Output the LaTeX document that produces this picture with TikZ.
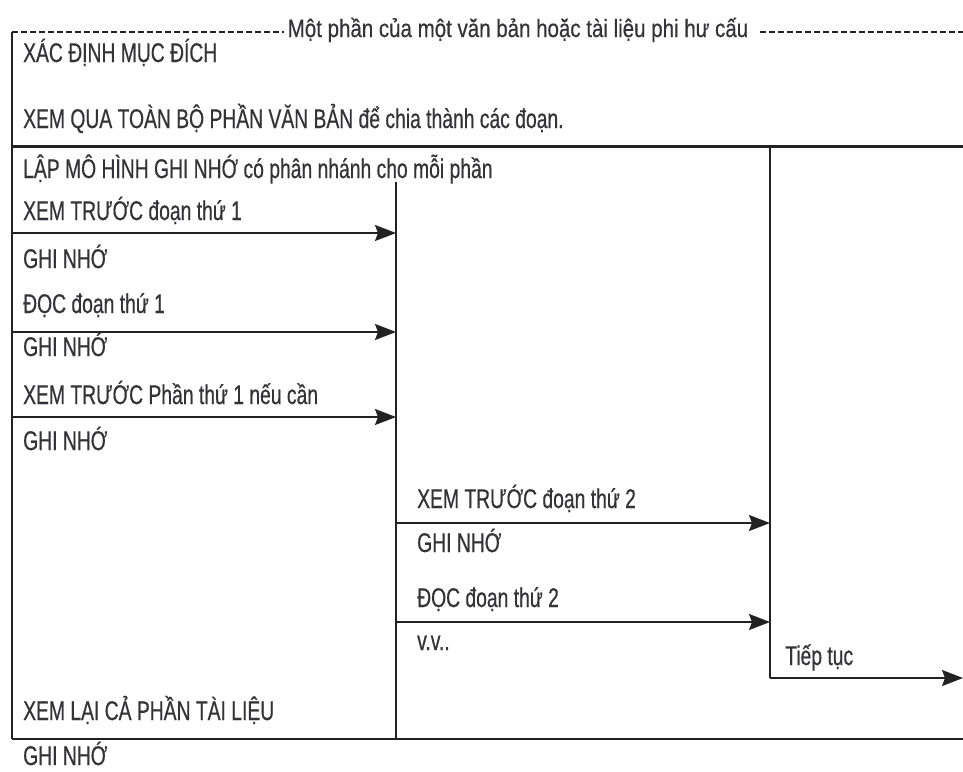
\documentclass[tikz,border=0pt]{standalone}
\usepackage{fontspec}
\setmainfont{Liberation Sans}[FakeStretch=0.715,FakeBold=0.5]
\newfontfamily\ttlfont{Liberation Sans}[FakeStretch=0.82,FakeBold=0.4]
\usetikzlibrary{arrows.meta}
\definecolor{txt}{HTML}{333338}
\definecolor{ln}{HTML}{222222}
\begin{document}
\begin{tikzpicture}[x=1pt,y=-1pt,
  lbl/.style={anchor=base west, inner sep=0pt, text=txt, font=\fontsize{27}{32}\selectfont},
  ttl/.style={anchor=base, inner sep=0pt, text=txt, font=\ttlfont\fontsize{25}{30}\selectfont},
  ln/.style={draw=ln, line width=1.8pt},
  thickln/.style={draw=ln, line width=3pt},
  vln/.style={draw=ln, line width=1.5pt},
  dashln/.style={draw=ln, line width=1.3pt, dash pattern=on 6pt off 3pt},
  arr/.style={draw=ln, line width=1.8pt, -{Stealth[length=21pt,width=16pt,inset=3pt]}}]
\useasboundingbox (0,0) rectangle (963,771);
\fill[white] (0,0) rectangle (963,771);

% title and dashed frame top
\node[ttl] (title) at (518,37) {Một phần của một văn bản hoặc tài liệu phi hư cấu};
\coordinate (dl0) at (12,32);
\coordinate (dl1) at (963,32);
\draw[dashln] (dl0) -- ([xshift=-4pt]title.west |- dl0);
\draw[dashln] ([xshift=12pt]title.east |- dl0) -- (dl1);

% frame lines
\coordinate (bl) at (12,739);
\coordinate (br) at (963,739);
\coordinate (tl) at (12,146);
\coordinate (tr) at (963,146);
\draw[ln] (dl0) -- (bl);
\draw[thickln] (tl) -- (tr);
\draw[ln] (bl) -- (br);

% verticals
\coordinate (m0) at (396,182);
\coordinate (m1) at (396,739);
\draw[vln] (m0) -- (m1);
\coordinate (r0) at (770,146);
\coordinate (r1) at (770,678);
\draw[vln] (r0) -- (r1);

% texts, left column
\node[lbl] (a1) at (23,62) {XÁC ĐỊNH MỤC ĐÍCH};
\node[lbl] (a2) at (23,128) {XEM QUA TOÀN BỘ PHẦN VĂN BẢN để chia thành các đoạn.};
\node[lbl] (a3) at (23,178) {LẬP MÔ HÌNH GHI NHỚ có phân nhánh cho mỗi phần};
\node[lbl] (a4) at (23,220) {XEM TRƯỚC đoạn thứ 1};
\node[lbl] (a5) at (23,268) {GHI NHỚ};
\node[lbl] (a6) at (23,313) {ĐỌC đoạn thứ 1};
\node[lbl] (a7) at (23,356) {GHI NHỚ};
\node[lbl] (a8) at (23,404) {XEM TRƯỚC Phần thứ 1 nếu cần};
\node[lbl] (a9) at (23,450) {GHI NHỚ};
\node[lbl] (a10) at (23,720) {XEM LẠI CẢ PHẦN TÀI LIỆU};
\node[lbl] (a11) at (23,765) {GHI NHỚ};

% texts, middle column
\node[lbl] (b1) at (417,508) {XEM TRƯỚC đoạn thứ 2};
\node[lbl] (b2) at (417,552) {GHI NHỚ};
\node[lbl] (b3) at (417,607) {ĐỌC đoạn thứ 2};
\node[lbl] (b4) at (417,650) {v.v..};

% right column
\node[lbl] (c1) at (785,665) {Tiếp tục};

% arrows
\coordinate (p1) at (12,233);  \coordinate (q1) at (396,233);
\coordinate (p2) at (12,332);  \coordinate (q2) at (396,332);
\coordinate (p3) at (12,417);  \coordinate (q3) at (396,417);
\coordinate (p4) at (396,523); \coordinate (q4) at (770,523);
\coordinate (p5) at (396,622); \coordinate (q5) at (770,622);
\coordinate (p6) at (770,678); \coordinate (q6) at (963,678);
\draw[arr] (p1) -- (q1);
\draw[arr] (p2) -- (q2);
\draw[arr] (p3) -- (q3);
\draw[arr] (p4) -- (q4);
\draw[arr] (p5) -- (q5);
\draw[arr] (p6) -- (q6);
\end{tikzpicture}
\end{document}
